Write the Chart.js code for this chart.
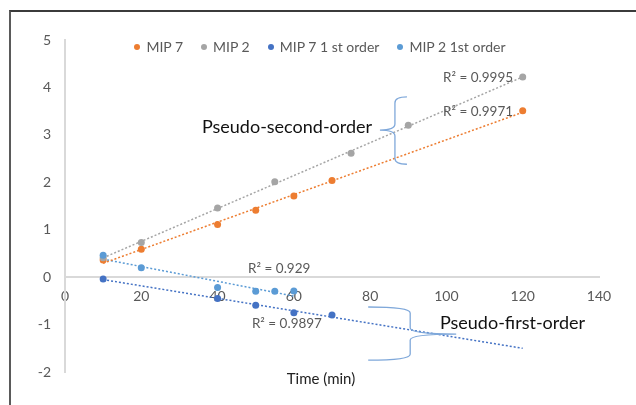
<!DOCTYPE html>
<html>
<head>
<meta charset="utf-8">
<script src="https://cdn.jsdelivr.net/npm/chart.js@4"></script>
<style>
  body { margin: 0; width: 636px; height: 405px; overflow: hidden; background: #fff; position: relative; font-family: Lato, sans-serif; }
  #frame { position: absolute; left: 9px; top: 10px; width: 700px; height: 500px; border-top: 2px solid #3b3b3b; border-left: 2px solid #5a5a5a; }
  #chart { position: absolute; left: 0; top: 0; }
  #legend { position: absolute; left: 0; top: 38px; width: 640px; display: flex; justify-content: center; gap: 18px; font-size: 14px; color: #595959; line-height: 17px; }
  .item { display: flex; align-items: center; }
  .dot { width: 6px; height: 6px; border-radius: 50%; margin-right: 6px; }
</style>
</head>
<body>
<div id="frame"></div>
<canvas id="chart" width="636" height="405"></canvas>
<div id="legend"></div>
<script>
// measured points, time in minutes
const timeMip7 = [10, 20, 40, 50, 60, 70, 120];
const mip7 = [0.36, 0.59, 1.11, 1.41, 1.71, 2.04, 3.51];
const timeMip2 = [10, 20, 40, 55, 75, 90, 120];
const mip2 = [0.41, 0.73, 1.46, 2.01, 2.61, 3.2, 4.22];
const timeMip7First = [10, 40, 50, 60, 70];
const mip7First = [-0.04, -0.45, -0.59, -0.75, -0.80];
const timeMip2First = [10, 20, 40, 50, 55, 60];
const mip2First = [0.46, 0.2, -0.22, -0.30, -0.30, -0.29];

const names = ["MIP 7", "MIP 2", "MIP 7 1 st order", "MIP 2 1st order"];
const colors = ["#ED7D31", "#A5A5A5", "#4472C4", "#5B9BD5"];
// where each linear trendline stops (MIP 7 1st order is forecast forward)
const trendEnds = [120, 120, 120, 60];

const xTicks = { min: 0, max: 140, step: 20 };
const yTicks = { min: -2, max: 5, step: 1 };

// R² labels and group notes, placed in data units
const r2Text = ["R² = 0.9995", "R² = 0.9971", "R² = 0.929", "R² = 0.9897"];
const r2X = [99.1, 99.1, 48, 49];
const r2Y = [4.2, 3.5, 0.18, -0.98];

const xs = [timeMip7, timeMip2, timeMip7First, timeMip2First];
const ys = [mip7, mip2, mip7First, mip2First];

function fitLine(xv, yv) {
  const n = xv.length;
  const mx = xv.reduce((a, b) => a + b) / n;
  const my = yv.reduce((a, b) => a + b) / n;
  let sxy = 0, sxx = 0;
  xv.forEach((x, i) => { sxy += (x - mx) * (yv[i] - my); sxx += (x - mx) * (x - mx); });
  const slope = sxy / sxx;
  return x => my + slope * (x - mx);
}

// draw order: light blue on top, trendlines underneath
const pointOrder = [4, 3, 2, 1];
const datasets = [];
names.forEach((name, i) => {
  datasets.push({
    type: 'scatter',
    label: name,
    data: xs[i].map((x, k) => ({ x: x, y: ys[i][k] })),
    backgroundColor: colors[i],
    borderColor: colors[i],
    pointRadius: 3.5,
    pointBorderWidth: 0,
    order: pointOrder[i]
  });
});
names.forEach((name, i) => {
  const f = fitLine(xs[i], ys[i]);
  const start = Math.min(...xs[i]);
  datasets.push({
    type: 'line',
    label: name + ' trend',
    data: [{ x: start, y: f(start) }, { x: trendEnds[i], y: f(trendEnds[i]) }],
    borderColor: colors[i],
    borderWidth: 1.5,
    borderDash: [2, 2],
    pointRadius: 0,
    fill: false,
    order: 10
  });
});

function drawBrace(ctx, spine, yTop, yMid, yBot, arm, tip, dir) {
  const armX = spine - dir * arm;
  const tipX = spine + dir * tip;
  const r = 6;
  ctx.beginPath();
  ctx.moveTo(armX, yTop);
  ctx.quadraticCurveTo(spine, yTop, spine, yTop + r);
  ctx.lineTo(spine, yMid - r);
  ctx.quadraticCurveTo(spine, yMid, tipX, yMid);
  ctx.moveTo(tipX, yMid);
  ctx.quadraticCurveTo(spine, yMid, spine, yMid + r);
  ctx.lineTo(spine, yBot - r);
  ctx.quadraticCurveTo(spine, yBot, armX, yBot);
  ctx.stroke();
}

const notes = {
  id: 'notes',
  afterDatasetsDraw(chart) {
    const { ctx, scales: { x, y } } = chart;
    ctx.save();
    ctx.textBaseline = 'middle';
    ctx.textAlign = 'left';
    ctx.font = '13.5px Lato';
    ctx.fillStyle = '#595959';
    r2Text.forEach((t, i) => ctx.fillText(t, x.getPixelForValue(r2X[i]), y.getPixelForValue(r2Y[i])));

    ctx.font = '18px Lato';
    ctx.fillStyle = '#111';
    ctx.fillText('Pseudo-second-order', x.getPixelForValue(35.9), y.getPixelForValue(3.16));
    ctx.fillText('Pseudo-first-order', x.getPixelForValue(98.3), y.getPixelForValue(-0.97));

    ctx.strokeStyle = '#7FA8DA';
    ctx.lineWidth = 1.3;
    drawBrace(ctx, x.getPixelForValue(86.5), y.getPixelForValue(3.8), y.getPixelForValue(3.1), y.getPixelForValue(2.38), 12, 15, -1);
    drawBrace(ctx, x.getPixelForValue(90.5), y.getPixelForValue(-0.63), y.getPixelForValue(-1.2), y.getPixelForValue(-1.75), 42, 46, 1);

    ctx.font = '15px Lato';
    ctx.fillStyle = '#222';
    ctx.textAlign = 'center';
    ctx.fillText('Time (min)', 321, 379);
    ctx.restore();
  }
};

Chart.defaults.font.family = 'Lato';
Chart.defaults.font.size = 14;
Chart.defaults.color = '#595959';

const chart = new Chart(document.getElementById('chart').getContext('2d'), {
  data: { datasets: datasets },
  options: {
    responsive: false,
    animation: false,
    layout: { padding: { left: 0, right: 37, top: 40, bottom: 33 } },
    plugins: { legend: { display: false }, tooltip: { enabled: false } },
    scales: {
      x: {
        type: 'linear',
        min: xTicks.min, max: xTicks.max,
        position: { y: 0 },
        z: 1,
        ticks: { stepSize: xTicks.step, padding: 11 },
        grid: { drawOnChartArea: false, drawTicks: false },
        border: { color: '#d9d9d9', width: 2 },
        afterFit: s => { s.height = 0; }
      },
      y: {
        type: 'linear',
        min: yTicks.min, max: yTicks.max,
        ticks: { stepSize: yTicks.step, padding: 14 },
        grid: { drawOnChartArea: false, drawTicks: false },
        border: { color: '#d9d9d9', width: 2 },
        afterFit: s => { s.width = 65; }
      }
    }
  },
  plugins: [notes]
});

// legend row built from the series
const legend = document.getElementById('legend');
names.forEach((name, i) => {
  const item = document.createElement('div');
  item.className = 'item';
  item.innerHTML = '<span class="dot" style="background:' + colors[i] + '"></span>' + name;
  legend.appendChild(item);
});
</script>
</body>
</html>
